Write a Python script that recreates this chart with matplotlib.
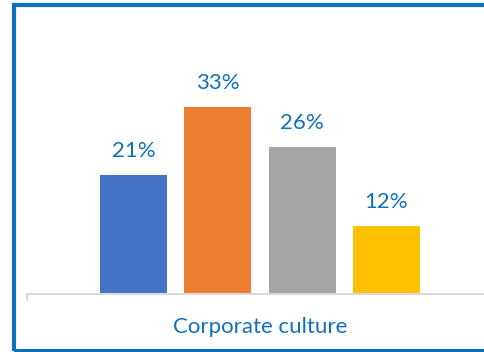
import matplotlib
matplotlib.use("Agg")
import matplotlib.pyplot as plt
from matplotlib.patches import Rectangle

# Data
categories = ["Corporate culture"]
series_names = ["A", "B", "C", "D"]
values = [21, 33, 26, 12]
colors = ["#4472C4", "#ED7D31", "#A5A5A5", "#FFC000"]
label_color = "#1270B8"
frame_color = "#0E72BA"

W, H = 485, 352
dpi = 100
fig = plt.figure(figsize=(W / dpi, H / dpi), dpi=dpi)
fig.patch.set_facecolor("white")

# Axes placement in pixels
ax_left, ax_right = 27, 493
base_y = 293.5
px_per_unit = 5.65
ymax = 40
ax_h = ymax * px_per_unit
ax = fig.add_axes([ax_left / W, (H - base_y) / H, (ax_right - ax_left) / W, ax_h / H])
ax.set_xlim(-0.5, 0.5)
ax.set_ylim(0, ymax)

n = len(values)
slot = 84.3 / (ax_right - ax_left)
bar_w = 67 / (ax_right - ax_left)
for i, (v, c) in enumerate(zip(values, colors)):
    x = (i - (n - 1) / 2) * slot
    ax.bar(x, v, width=bar_w, color=c, zorder=2)
    ax.annotate(f"{v}%", (x, v), xytext=(0, 18), textcoords="offset pixels",
                ha="center", va="baseline", fontsize=16, color=label_color,
                family="Lato")

for s in ["top", "right", "left"]:
    ax.spines[s].set_visible(False)
ax.spines["bottom"].set_color("#D9D9D9")
ax.spines["bottom"].set_linewidth(1.5)
ax.set_yticks([])
ax.set_xticks([-0.5])
ax.set_xticklabels([""])
ax.tick_params(axis="x", length=5, width=1.5, color="#D9D9D9")
ax.set_facecolor("none")

fig.text(260 / W, 1 - 333 / H, categories[0], ha="center", va="baseline",
         fontsize=16, color=label_color, family="Lato")

# Outer frame
fig.patches.append(Rectangle((14.5 / W, 1 - 350.5 / H), (W + 20) / W, (350.5 - 5.3) / H,
                             transform=fig.transFigure, fill=False,
                             edgecolor=frame_color, linewidth=3.0, zorder=10))

fig.savefig("out.png", dpi=dpi)
